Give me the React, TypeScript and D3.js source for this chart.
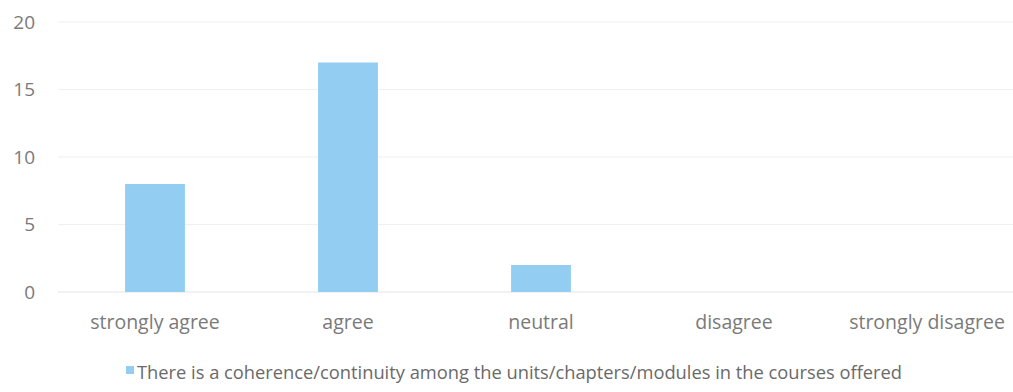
import React from "react";
import * as d3 from "d3";

const categories = ["strongly agree", "agree", "neutral", "disagree", "strongly disagree"];
const values = [8, 17, 2, 0, 0];
const yTicks = [0, 5, 10, 15, 20];
const seriesName = "There is a coherence/continuity among the units/chapters/modules in the courses offered";

const W = 1013;
const H = 392;

export default function App() {
  const x = d3.scaleBand<string>().domain(categories).range([58.5, 1023.5]).paddingInner(0.69).paddingOuter(0.345);
  const y = d3.scaleLinear().domain([0, 20]).range([292, 22]);
  const font = "'Open Sans', 'DejaVu Sans', sans-serif";
  return (
    <svg width={W} height={H} style={{ position: "absolute", left: 0, top: 0, background: "#fff" }}>
      <rect x={0} y={0} width={W} height={H} fill="#fff" />
      {yTicks.map((t) => (
        <g key={t}>
          <line x1={58} x2={W} y1={y(t)} y2={y(t)} stroke={t === 0 ? "#e6e6e6" : "#f0f0f0"} strokeWidth={1.2} />
          <text x={35} y={y(t)} dy="0.36em" textAnchor="end" fontSize={19} fill="#7a7a7a" fontFamily={font}>
            {t}
          </text>
        </g>
      ))}
      {categories.map((c, i) => (
        <g key={c}>
          {values[i] > 0 && (
            <rect x={x(c)} y={y(values[i])} width={x.bandwidth()} height={y(0) - y(values[i])} fill="#93cdf1" />
          )}
          <text x={(x(c) as number) + x.bandwidth() / 2} y={329} textAnchor="middle" fontSize={19.5} fill="#7a7a7a" fontFamily={font}>
            {c}
          </text>
        </g>
      ))}
      <rect x={126} y={366} width={8} height={8} fill="#93cdf1" />
      <text x={137} y={379} fontSize={18} fill="#6a6a6a" fontFamily={font} textLength={765} lengthAdjust="spacingAndGlyphs">
        {seriesName}
      </text>
    </svg>
  );
}
